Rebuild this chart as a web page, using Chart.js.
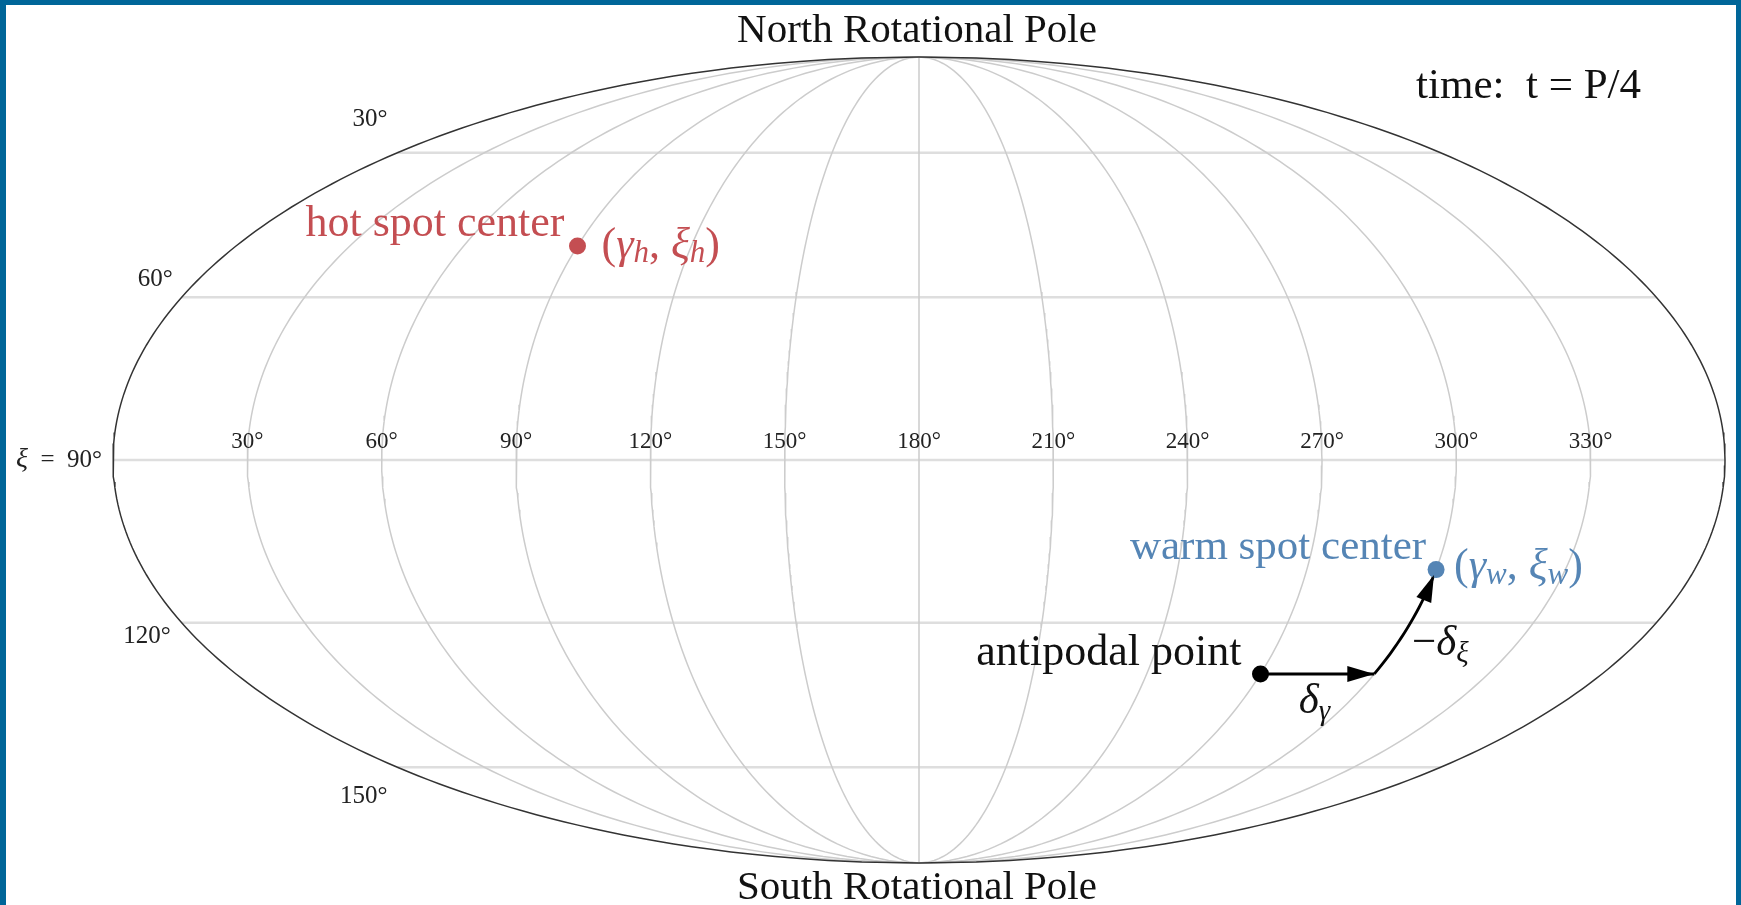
<!DOCTYPE html>
<html>
<head>
<meta charset="utf-8">
<script src="https://cdn.jsdelivr.net/npm/chart.js@4"></script>
<style>
  html, body { margin: 0; padding: 0; background: #fff; }
  #wrap { position: relative; width: 1741px; height: 905px; overflow: hidden; }
  #frame { position: absolute; left: 0; top: 0; width: 1741px; height: 905px; box-sizing: border-box;
           border-top: 5px solid #006699; border-left: 6px solid #006699; border-right: 5px solid #006699;
           pointer-events: none; }
</style>
</head>
<body>
<div id="wrap">
  <canvas id="map" width="1741" height="905"></canvas>
  <div id="frame"></div>
</div>
<script>
// grid ticks (gamma = longitude 0..360, xi = colatitude 0..180)
const gammaTicks = [30, 60, 90, 120, 150, 180, 210, 240, 270, 300, 330];
const xiTicks = [30, 60, 90, 120, 150];
const xiTickLabels = ['30°', '60°', '90°', '120°', '150°'];

// spots
const spotNames = ['hot spot center', 'warm spot center', 'antipodal point'];
const spotGamma = [90, 300, 270];
const spotXi = [50, 110, 130];
const spotColors = ['#c44e52', '#5585b5', '#000000'];

// offsets from antipode: delta_gamma then -delta_xi
const deltaGamma = [270, 300];   // along xi = 130
const deltaXi = [130, 111];      // along gamma = 300

const SERIF = '"Liberation Serif", "DejaVu Serif", serif';
const R = Math.PI / 180;

// Mollweide projection -> x in [-180,180], y in [-90,90]
function project(gamma, xi) {
  const lon = gamma - 180;
  const lat = (90 - xi) * R;
  let t;
  if (Math.abs(Math.abs(lat) - Math.PI / 2) < 1e-9) {
    t = lat;
  } else {
    let a = 2 * lat;
    for (let i = 0; i < 60; i++) {
      const f = a + Math.sin(a) - Math.PI * Math.sin(lat);
      a -= f / (1 + Math.cos(a));
    }
    t = a / 2;
  }
  return { x: lon * Math.cos(t), y: 90 * Math.sin(t) };
}

function meridian(gamma, xiFrom = 0, xiTo = 180) {
  const pts = [];
  const step = xiTo > xiFrom ? 1 : -1;
  for (let xi = xiFrom; step > 0 ? xi <= xiTo : xi >= xiTo; xi += step) pts.push(project(gamma, xi));
  return pts;
}

const datasets = [];
xiTicks.forEach(xi => {
  datasets.push({ data: [project(0, xi), project(360, xi)], borderColor: '#dedede', borderWidth: 2.5, order: 10 });
});
gammaTicks.forEach(g => {
  datasets.push({ data: meridian(g), borderColor: '#cccccc', borderWidth: 1.5, order: 9 });
});
[0, 360].forEach(g => {
  datasets.push({ data: meridian(g), borderColor: '#333333', borderWidth: 1.5, order: 5 });
});
const arrowStart = datasets.length;
datasets.push({ data: deltaGamma.map(g => project(g, deltaXi[0])), borderColor: '#000', borderWidth: 2.8, order: 2 });
datasets.push({ data: meridian(deltaGamma[1], deltaXi[0], deltaXi[1]), borderColor: '#000', borderWidth: 2.8, order: 2 });
spotNames.forEach((n, i) => {
  datasets.push({
    data: [project(spotGamma[i], spotXi[i])], showLine: false, order: 0,
    pointRadius: 8.5, pointBackgroundColor: spotColors[i], pointBorderWidth: 0
  });
});
datasets.forEach(d => {
  if (d.showLine === undefined) { d.showLine = true; d.pointRadius = 0; }
  d.clip = false;
  d.fill = false;
  d.tension = 0;
});

// text helpers
function runs(ctx, parts, x, y, align) {
  // parts: [text, size, italic, dy]
  let w = 0;
  parts.forEach(p => { ctx.font = (p[2] ? 'italic ' : '') + p[1] + 'px ' + SERIF; w += ctx.measureText(p[0]).width; });
  let cx = align === 'right' ? x - w : align === 'center' ? x - w / 2 : x;
  ctx.textAlign = 'left';
  parts.forEach(p => {
    ctx.font = (p[2] ? 'italic ' : '') + p[1] + 'px ' + SERIF;
    ctx.fillText(p[0], cx, y + (p[3] || 0));
    cx += ctx.measureText(p[0]).width;
  });
}

const latLabelOffsets = [[-10, -33], [-9, -18], [-11, 0], [-11, 14], [-10, 29]];

const annotate = {
  id: 'annotate',
  afterDatasetsDraw(chart) {
    const ctx = chart.ctx;
    const xs = chart.scales.x, ys = chart.scales.y;
    const px = p => ({ x: xs.getPixelForValue(p.x), y: ys.getPixelForValue(p.y) });
    ctx.save();

    // arrow heads
    for (let k = arrowStart; k < arrowStart + 2; k++) {
      const pts = chart.getDatasetMeta(k).data;
      const a = pts[pts.length - 2], b = pts[pts.length - 1];
      const ang = Math.atan2(b.y - a.y, b.x - a.x);
      const L = 27, W = 8;
      ctx.fillStyle = '#000';
      ctx.beginPath();
      ctx.moveTo(b.x, b.y);
      ctx.lineTo(b.x - L * Math.cos(ang) + W * Math.sin(ang), b.y - L * Math.sin(ang) - W * Math.cos(ang));
      ctx.lineTo(b.x - L * Math.cos(ang) - W * Math.sin(ang), b.y - L * Math.sin(ang) + W * Math.cos(ang));
      ctx.closePath();
      ctx.fill();
    }

    ctx.textBaseline = 'middle';
    ctx.fillStyle = '#222';
    // gamma tick labels along equator
    gammaTicks.forEach(g => {
      const p = px(project(g, 90));
      ctx.font = '23px ' + SERIF;
      ctx.textAlign = 'center';
      ctx.fillText(g + '°', p.x, p.y - 18);
    });
    // xi tick labels on left rim
    xiTicks.forEach((xi, i) => {
      const p = px(project(0, xi));
      const o = latLabelOffsets[i];
      if (xi === 90) {
        runs(ctx, [['ξ', 28, true], ['  =  ' + xiTickLabels[i], 25, false]], p.x + o[0], p.y + o[1], 'right');
      } else {
        ctx.font = '25px ' + SERIF;
        ctx.textAlign = 'right';
        ctx.fillText(xiTickLabels[i], p.x + o[0], p.y + o[1]);
      }
    });

    // poles and time
    ctx.fillStyle = '#111';
    ctx.font = '41px ' + SERIF;
    ctx.textAlign = 'center';
    ctx.fillText('North Rotational Pole', 917, 31);
    ctx.fillText('South Rotational Pole', 917, 888);
    ctx.textAlign = 'right';
    ctx.font = '43px ' + SERIF;
    ctx.fillText('time:  t = P/4', 1641, 87);

    // spot labels
    const hot = px(project(spotGamma[0], spotXi[0]));
    const warm = px(project(spotGamma[1], spotXi[1]));
    const anti = px(project(spotGamma[2], spotXi[2]));
    const corner = px(project(deltaGamma[1], deltaXi[0]));

    ctx.fillStyle = spotColors[0];
    ctx.font = '44px ' + SERIF; ctx.textAlign = 'right';
    ctx.fillText(spotNames[0], hot.x - 13, hot.y - 22);
    runs(ctx, [['(', 44], ['γ', 44, true], ['h', 31, true, 8], [', ', 44], ['ξ', 44, true], ['h', 31, true, 8], [')', 44]], hot.x + 24, hot.y, 'left');

    ctx.fillStyle = spotColors[1];
    ctx.font = '43px ' + SERIF; ctx.textAlign = 'right';
    ctx.fillText(spotNames[1], warm.x - 10, warm.y - 22);
    runs(ctx, [['(', 44], ['γ', 44, true], ['w', 31, true, 8], [', ', 44], ['ξ', 44, true], ['w', 31, true, 8], [')', 44]], warm.x + 18, warm.y - 2, 'left');

    ctx.fillStyle = '#111';
    ctx.font = '44px ' + SERIF; ctx.textAlign = 'right';
    ctx.fillText(spotNames[2], anti.x - 19, anti.y - 21);
    runs(ctx, [['δ', 43, true], ['γ', 29, true, 10]], anti.x + 54, anti.y + 28, 'center');
    runs(ctx, [['−', 43], ['δ', 43, true], ['ξ', 29, true, 10]], corner.x + 66, corner.y - 30, 'center');

    ctx.restore();
  }
};

new Chart(document.getElementById('map'), {
  type: 'scatter',
  data: { datasets },
  options: {
    responsive: false,
    animation: false,
    layout: { padding: { left: 113, right: 16, top: 57, bottom: 42 } },
    plugins: { legend: { display: false }, tooltip: { enabled: false } },
    scales: {
      x: { type: 'linear', min: -180, max: 180, display: false },
      y: { type: 'linear', min: -90, max: 90, display: false }
    }
  },
  plugins: [annotate]
});
</script>
</body>
</html>
